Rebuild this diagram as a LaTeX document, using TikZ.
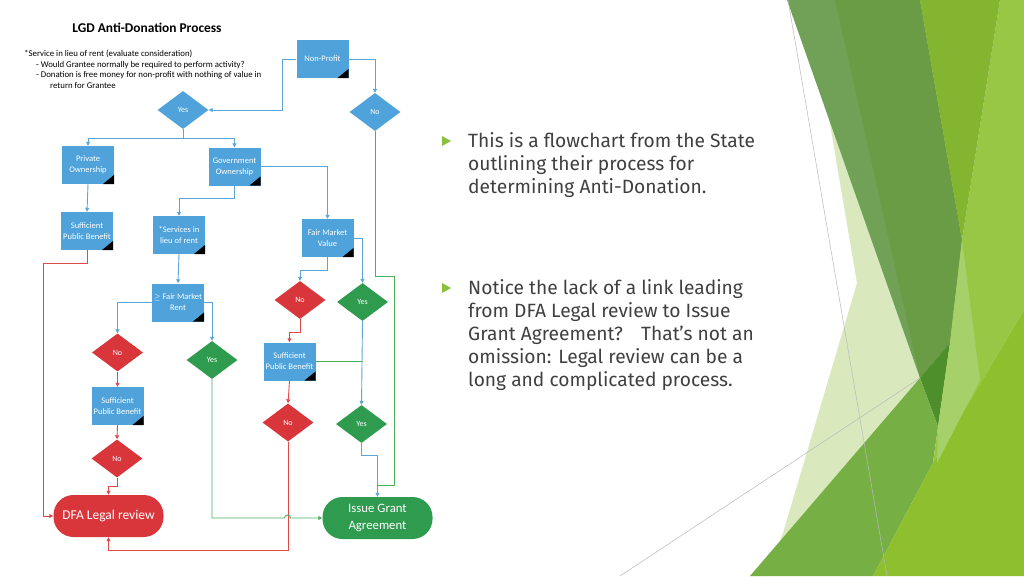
\documentclass[tikz,border=0pt]{standalone}
\usepackage{fontspec}
\setmainfont{Fira Sans}
\newfontfamily\calfont{Carlito}
\usetikzlibrary{shapes.geometric,arrows.meta}
\definecolor{bxblue}{HTML}{4FA2DA}
\definecolor{dred}{HTML}{D9363C}
\definecolor{dgreen}{HTML}{2E9B4F}
\definecolor{lblue}{HTML}{5DA5D8}
\definecolor{lred}{HTML}{DE4A4A}
\definecolor{lgreen}{HTML}{4DAE5E}
\definecolor{txt}{HTML}{404040}
\definecolor{bul}{HTML}{8CC03C}
\definecolor{gbright}{HTML}{8DBF2F}
\definecolor{gbrightup}{HTML}{97C745}
\definecolor{golive}{HTML}{84B531}
\definecolor{gmuted}{HTML}{71A156}
\definecolor{gdark}{HTML}{699C44}
\definecolor{gdd}{HTML}{4E8F2B}
\definecolor{gpale}{HTML}{D9E9BD}
\definecolor{gmed}{HTML}{76B045}
\definecolor{glight}{HTML}{A5D06A}
\tikzset{
 bbox/.style={rectangle, fill=bxblue, text=white, font=\calfont\fontsize{8.5}{11}\selectfont, align=center, inner sep=0pt, minimum width=52pt, minimum height=38pt,
   path picture={\fill[black] (path picture bounding box.south east) -- ++(-11pt,0pt) -- ++(11pt,9pt) -- cycle;}},
 dia/.style={diamond, inner sep=0pt, minimum width=51pt, minimum height=38pt, text=white, font=\calfont\fontsize{8}{9}\selectfont},
 bdia/.style={dia, fill=bxblue},
 rdia/.style={dia, fill=dred},
 gdia/.style={dia, fill=dgreen},
 term/.style={rectangle, rounded corners=20pt, minimum width=110pt, minimum height=42pt, text=white, align=center},
 tip/.style={-{Triangle[length=4pt,width=4pt]}},
 bl/.style={draw=lblue, line width=0.9pt},
 rd/.style={draw=lred, line width=0.9pt},
 gr/.style={draw=lgreen, line width=0.9pt},
 note/.style={anchor=base west, font=\calfont\fontsize{8.8}{10}\selectfont, text=black, inner sep=0pt},
 body/.style={anchor=base west, font=\fontsize{19.2}{23}\selectfont, text=txt, inner sep=0pt},
 bullet/.style={fill=bul},
 thin/.style={draw=gray!55, line width=0.5pt},
}
\begin{document}
\begin{tikzpicture}[x=1pt,y=-1pt]
\useasboundingbox (0,0) rectangle (1024,576);
\fill[white] (0,0) rectangle (1024,576);
% ---- background decoration ----
\fill[gpale] (829,118) -- (857,283) -- (783,533) -- (765,576) -- (750,576) -- (920,378) -- cycle;
\fill[gmuted] (787,0) -- (920,0) -- (962,240) -- (950,343) -- (920,378) -- cycle;
\fill[gdark] (835,0) -- (920,0) -- (962,240) -- (950,343) -- (920,378) -- cycle;
\fill[gdd] (920,378) -- (950,343) -- (938,427) -- cycle;
\fill[gmed] (750,576) -- (920,378) -- (938,427) -- (933,463) -- (873,576) -- cycle;
\fill[gbrightup] (1000,0) -- (1024,0) -- (1024,310) -- (933,463) -- (938,427) -- (950,343) -- (962,240) -- cycle;
\fill[gbright] (873,576) -- (933,463) -- (1024,310) -- (1024,576) -- cycle;
\fill[glight] (962,240) -- (980,380) -- (937,463) -- (938,427) -- (950,343) -- cycle;
\fill[golive] (920,0) -- (1000,0) -- (962,240) -- cycle;
\draw[thin] (788,0) -- (887,576);
\draw[thin] (620,576) -- (920,378);
% ---- title and notes ----
\node[font=\calfont\bfseries\fontsize{13.4}{15}\selectfont] (title) at (147,28) {LGD Anti-Donation Process};
\node[note] (n1) at (24,56) {*Service in lieu of rent (evaluate consideration)};
\node[note] (n2) at (36,67) {- Would Grantee normally be required to perform activity?};
\node[note] (n3) at (36,77) {- Donation is free money for non-profit with nothing of value in};
\node[note] (n4) at (50,88) {return for Grantee};
% ---- nodes ----
\node[bbox] (np) at (322.5,59) {Non-Profit};
\node[bdia] (yes1) at (183,110) {Yes};
\node[bdia] (no1) at (375,112) {No};
\node[bbox] (priv) at (88,165) {Private\\Ownership};
\node[bbox] (gov) at (234.5,166.5) {Government\\Ownership};
\node[bbox] (spb1) at (87,231) {Sufficient\\Public Benefit};
\node[bbox] (serv) at (179,235) {*Services in\\lieu of rent};
\node[bbox] (fmv) at (327.5,238) {Fair Market\\Value};
\node[bbox] (fmr) at (178,302.5) {$\geq$ Fair Market\\Rent};
\node[rdia] (no2) at (300,300) {No};
\node[gdia] (yes2) at (362.5,302) {Yes};
\node[rdia] (no3) at (117.5,352.5) {No};
\node[gdia] (yes3) at (212,360) {Yes};
\node[bbox] (spb2) at (289.5,361.5) {Sufficient\\Public Benefit};
\node[bbox] (spb3) at (117.5,406) {Sufficient\\Public Benefit};
\node[rdia] (no4) at (288,422.5) {No};
\node[gdia] (yes4) at (361.5,424) {Yes};
\node[rdia] (no5) at (117,458.5) {No};
\node[term, fill=dred, font=\calfont\fontsize{13.5}{15}\selectfont] (dfa) at (108.5,516) {DFA Legal review};
\node[term, fill=dgreen, font=\calfont\fontsize{12.8}{16.5}\selectfont] (iga) at (377.5,518) {Issue Grant\\Agreement};
\coordinate (j1) at (183,138);
\coordinate (m1) at (377.5,485);
% ---- connectors ----
\draw[bl,tip] (np.west) -- ++(-14,0) |- (yes1.east);
\draw[bl,tip] (np.east) -| (no1.north);
\draw[bl] (yes1.south) -- (j1);
\draw[bl,tip] (j1) -| (priv.north);
\draw[bl,tip] (j1) -| (gov.north);
\draw[bl,tip] (priv.south) -- (spb1.north);
\draw[bl,tip] (gov.south) -- ++(0,13) -| (serv.north);
\draw[bl,tip] (gov.east) -| (fmv.north);
\draw[bl,tip] (fmv.south) -- ++(0,13) -| (no2.north);
\draw[bl,tip] (fmv.east) -| (yes2.north);
\draw[bl,tip] (serv.south) -- (fmr.north);
\draw[bl,tip] (fmr.west) -| (no3.north);
\draw[bl,tip] (fmr.east) -| (yes3.north);
\draw[rd,tip] (no3.south) -- (spb3.north);
\draw[rd,tip] (spb3.south) -- (no5.north);
\draw[rd,tip] (no5.south) -- ++(0,9) -| (dfa.north);
\draw[rd,tip] (spb1.south) -- ++(0,13) -- ++(-44,0) |- (dfa.west);
\draw[rd,tip] (no2.south) -- ++(0,13) -| (spb2.north);
\draw[rd,tip] (spb2.south) -- (no4.north);
\draw[rd,tip] (no4.south) -- ++(0,109) -| (dfa.south);
\draw[gr] (spb2.east) -- (yes2.south |- spb2.east);
\draw[bl,tip] (yes2.south) -- (yes4.north);
\draw[gr] (no1.south) -- ++(0,145) -| (394,485) -- (m1);
\draw[bl,tip] (yes4.south) -- ++(0,12) -| (iga.north);
\draw[gr,tip] (yes3.south) |- (284.5,518) arc[start angle=180, end angle=360, radius=3] -- (iga.west);
% ---- slide text ----
\fill[bullet] (442,136) -- (442,146) -- (451,141) -- cycle;
\node[body] (t1) at (468,147) {This is a flowchart from the State};
\node[body] (t2) at (468,170) {outlining their process for};
\node[body] (t3) at (468,193) {determining Anti-Donation.};
\fill[bullet] (442,283) -- (442,293) -- (451,288) -- cycle;
\node[body] (t4) at (468,294) {Notice the lack of a link leading};
\node[body] (t5) at (468,317) {from DFA Legal review to Issue};
\node[body] (t6) at (468,340) {Grant Agreement?\hspace{0.6em} That’s not an};
\node[body] (t7) at (468,363) {omission: Legal review can be a};
\node[body] (t8) at (468,386) {long and complicated process.};
\end{tikzpicture}
\end{document}
